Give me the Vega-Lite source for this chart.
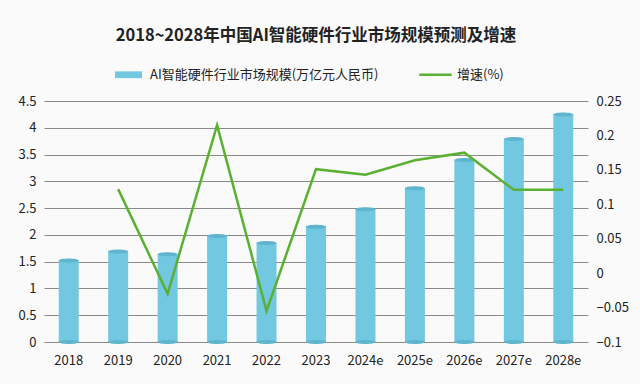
{
  "$schema": "https://vega.github.io/schema/vega-lite/v6.json",
  "autosize": {"type": "none"},
  "width": 544,
  "height": 241,
  "padding": {"left": 44, "top": 101, "right": 52, "bottom": 42},
  "background": "#fafafa",
  "config": {
    "font": "Noto Sans CJK SC",
    "view": {"stroke": null},
    "axis": {"labelFont": "Noto Sans CJK SC", "labelFontSize": 13, "labelColor": "#222", "domain": false, "ticks": false}
  },
  "title": {
    "text": "2018~2028年中国AI智能硬件行业市场规模预测及增速",
    "fontSize": 16.5,
    "fontWeight": "bold",
    "color": "#222",
    "anchor": "middle",
    "offset": 17
  },
  "data": {
    "values": [
      {"year": "2018", "value": 1.52, "growth": null},
      {"year": "2019", "value": 1.69, "growth": 0.122},
      {"year": "2020", "value": 1.64, "growth": -0.03},
      {"year": "2021", "value": 1.98, "growth": 0.215},
      {"year": "2022", "value": 1.85, "growth": -0.055},
      {"year": "2023", "value": 2.15, "growth": 0.151},
      {"year": "2024e", "value": 2.48, "growth": 0.143},
      {"year": "2025e", "value": 2.87, "growth": 0.164},
      {"year": "2026e", "value": 3.40, "growth": 0.175},
      {"year": "2027e", "value": 3.79, "growth": 0.121},
      {"year": "2028e", "value": 4.25, "growth": 0.121}
    ]
  },
  "encoding": {
    "x": {
      "field": "year", "type": "ordinal", "sort": null,
      "scale": {"paddingInner": 0, "paddingOuter": 0},
      "axis": {"title": null, "labelAngle": 0, "labelPadding": 12, "labelFontSize": 13}
    }
  },
  "layer": [
    {
      "layer": [
        {
          "mark": {"type": "bar", "size": 20, "color": "#72c7e1"},
          "encoding": {
            "y": {"field": "value", "type": "quantitative",
              "scale": {"domain": [0, 4.5], "nice": false},
              "axis": {"title": null, "values": [0, 0.5, 1, 1.5, 2, 2.5, 3, 3.5, 4, 4.5], "labelOverlap": false, "grid": true, "gridColor": "#8a8a8a", "gridWidth": 1.2, "labelPadding": 8, "format": ".2~f"}},
            "color": {
              "datum": "AI智能硬件行业市场规模(万亿元人民币)",
              "type": "nominal",
              "scale": {"domain": ["AI智能硬件行业市场规模(万亿元人民币)", "增速(%)"], "range": ["#72c7e1", "#5ab031"]},
              "legend": {
                "title": null, "orient": "none", "direction": "horizontal",
                "legendX": 71, "legendY": -40,
                "labelFontSize": 13, "labelColor": "#222", "columnPadding": 40,
                "labelLimit": 400,
                "symbolSize": 729,
                "labelOffset": 8,
                "encode": {
                  "symbols": {
                    "update": {
                      "shape": {"signal": "datum.value === '增速(%)' ? 'M-1.2,-0.1H1.2V0.1H-1.2Z' : 'M-1,-0.25H1V0.25H-1Z'"},
                      "strokeWidth": {"value": 0}
                    }
                  }
                }
              }
            }
          }
        },
        {
          "mark": {"type": "point", "shape": "M-1,0A1,0.2,0,1,0,1,0A1,0.2,0,1,0,-1,0Z", "size": 400, "filled": true, "opacity": 1, "color": "#5fb4ce"},
          "encoding": {"y": {"field": "value", "type": "quantitative",
              "axis": {"title": null, "values": [0, 0.5, 1, 1.5, 2, 2.5, 3, 3.5, 4, 4.5], "labelOverlap": false, "grid": true, "gridColor": "#8a8a8a", "gridWidth": 1.2, "labelPadding": 8, "format": ".2~f"}}}
        },
        {
          "mark": {"type": "point", "shape": "M-1,0A1,0.2,0,1,0,1,0A1,0.2,0,1,0,-1,0Z", "size": 400, "filled": true, "opacity": 1, "color": "#5fb4ce"},
          "encoding": {"y": {"datum": 0, "type": "quantitative",
              "axis": {"title": null, "values": [0, 0.5, 1, 1.5, 2, 2.5, 3, 3.5, 4, 4.5], "labelOverlap": false, "grid": true, "gridColor": "#8a8a8a", "gridWidth": 1.2, "labelPadding": 8, "format": ".2~f"}}}
        }
      ]
    },
    {
      "mark": {"type": "line", "strokeWidth": 2.5, "color": "#5ab031"},
      "transform": [{"filter": "datum.growth != null"}],
      "encoding": {
        "y": {"field": "growth", "type": "quantitative",
          "scale": {"domain": [-0.1, 0.25], "nice": false, "zero": false},
          "axis": {"title": null, "orient": "right", "values": [-0.1, -0.05, 0, 0.05, 0.1, 0.15, 0.2, 0.25], "labelOverlap": false, "grid": false, "labelPadding": 8, "format": ".2~f"}},
        "color": {"datum": "增速(%)", "type": "nominal"}
      }
    }
  ],
  "resolve": {"scale": {"y": "independent"}}
}
